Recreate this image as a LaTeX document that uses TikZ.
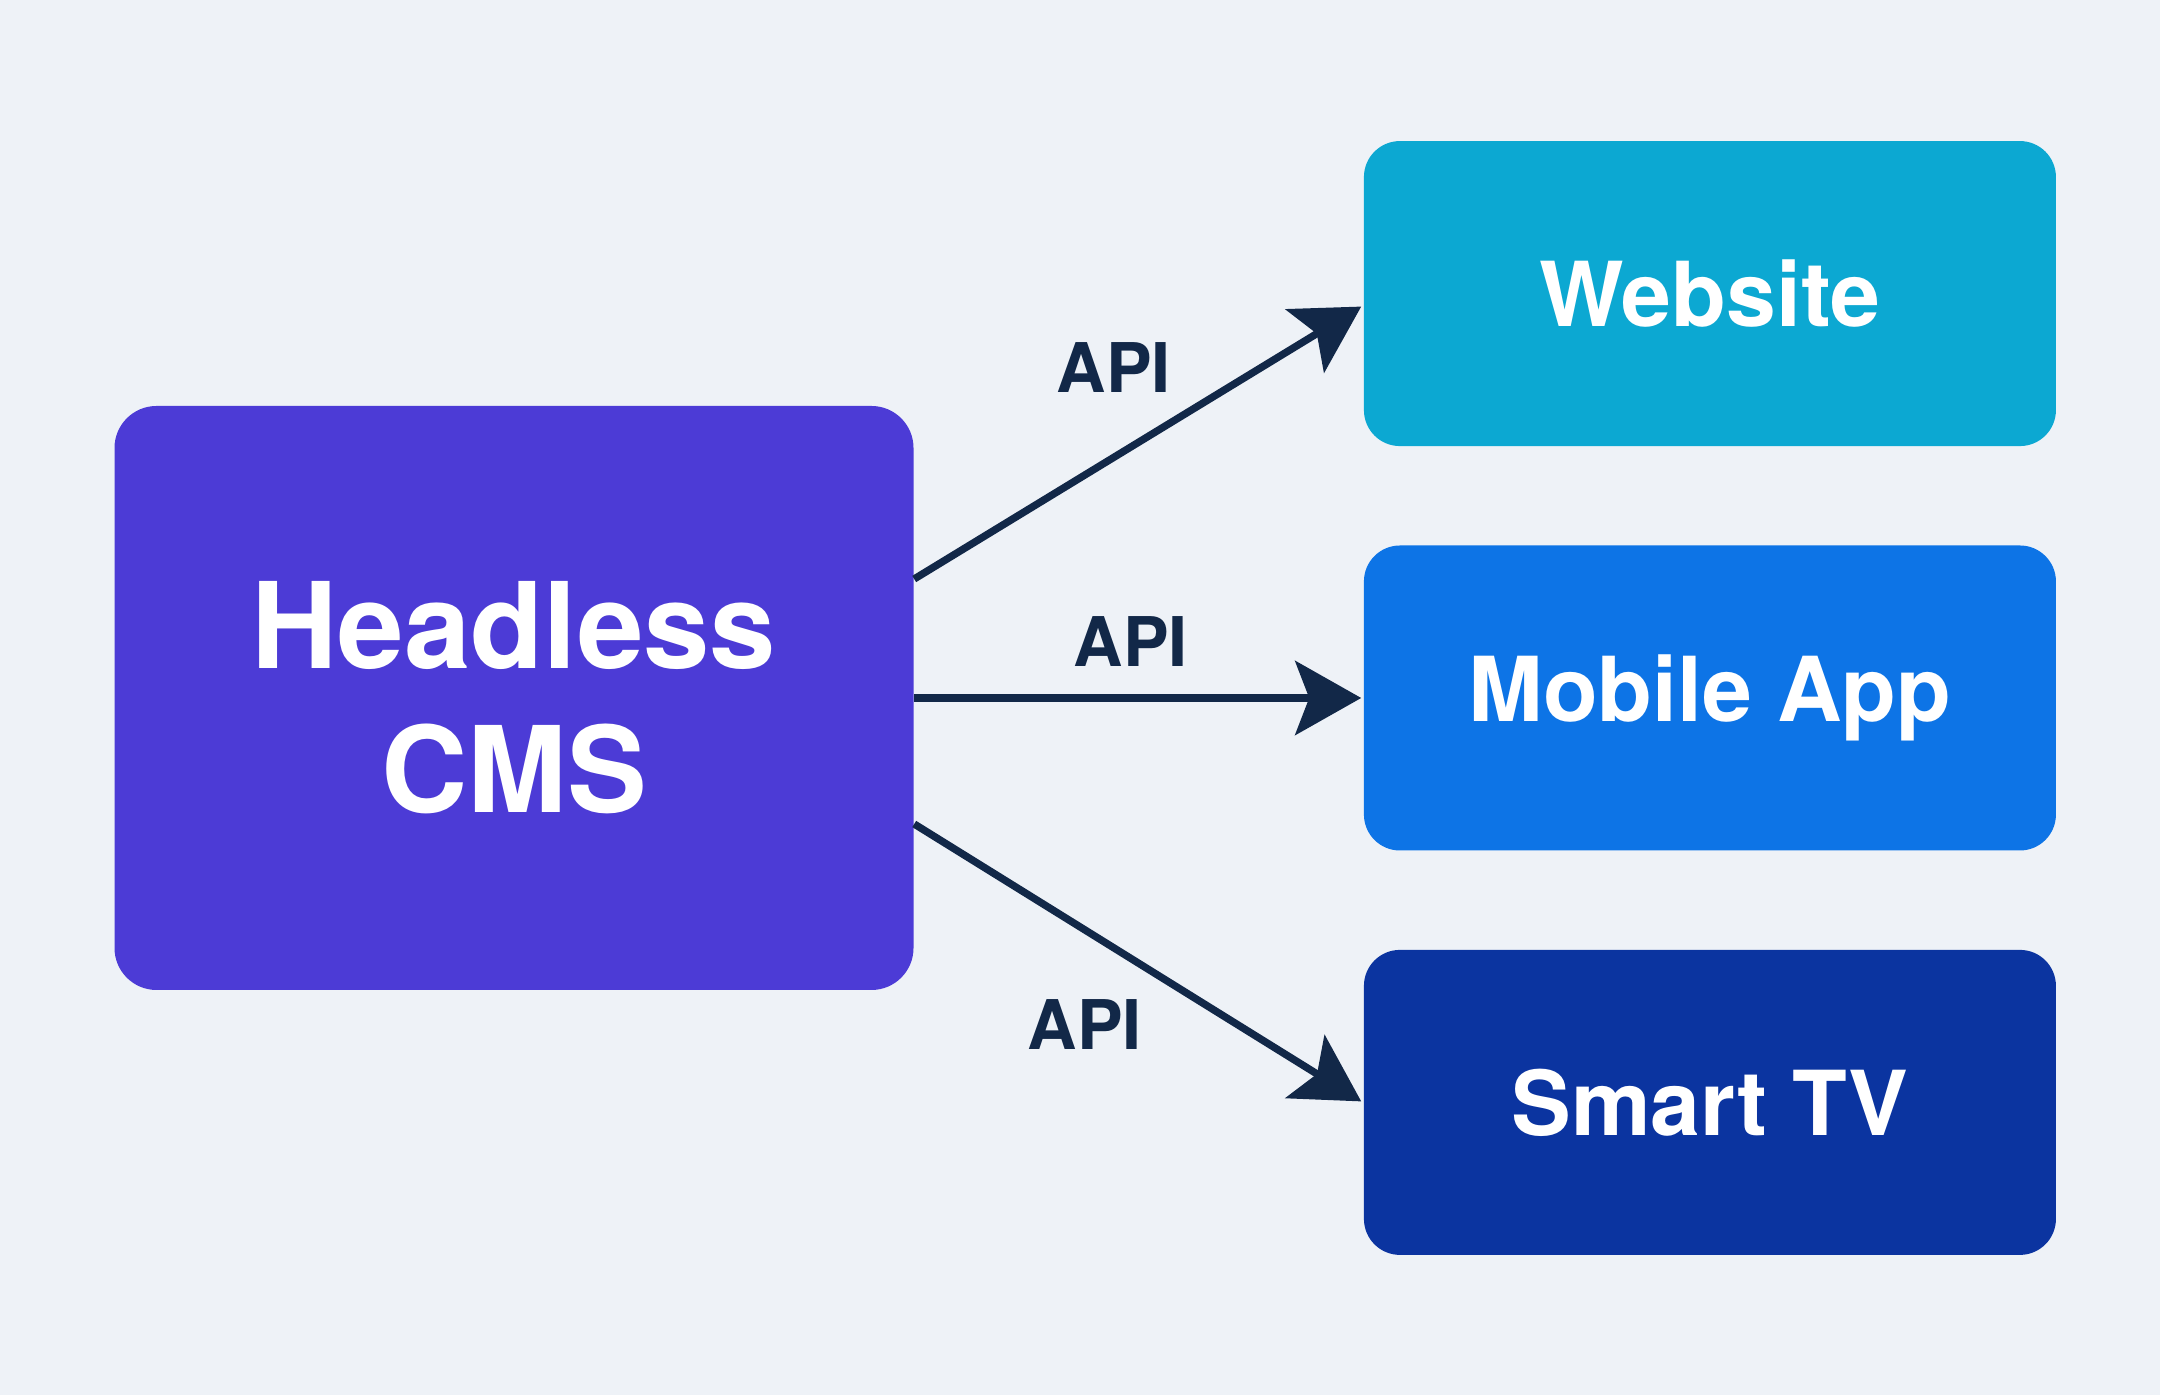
\documentclass[tikz,border=0pt]{standalone}
\usepackage{fontspec}
\setmainfont{TeX Gyre Heros}
\usepackage{xcolor}
\usetikzlibrary{arrows.meta, positioning, calc}

\definecolor{bgcol}{RGB}{238,242,247}
\definecolor{cmscol}{RGB}{76,59,214}
\definecolor{webcol}{RGB}{12,168,210}
\definecolor{appcol}{RGB}{13,116,230}
\definecolor{tvcol}{RGB}{11,52,160}
\definecolor{apicol}{RGB}{18,40,72}

\begin{document}
\begin{tikzpicture}[
    node distance=0.98cm and 4.49cm,
    cms/.style={fill=cmscol, rectangle, minimum height=5.84cm, minimum width=7.99cm, rounded corners=0.42cm, align=center, text=white, font=\fontsize{34}{41}\selectfont\bfseries},
    client/.style={rectangle, minimum height=3.05cm, minimum width=6.92cm, rounded corners=0.36cm, align=center, text=white, font=\fontsize{25.5}{30}\selectfont\bfseries},
    apiline/.style={draw=apicol, line width=2.1pt, -{Stealth[length=0.66cm, width=0.74cm, inset=0.14cm]}},
    apilabel/.style={text=apicol, font=\fontsize{19.5}{23}\selectfont\bfseries}
]
    \fill[bgcol] (0,0) rectangle (21.6,13.95);
    \useasboundingbox (0,0) rectangle (21.6,13.95);

    \node[cms] (cms) at (5.14,6.97) {Headless\\CMS};
    \node[client, fill=appcol, right=of cms] (app) {Mobile App};
    \node[client, fill=webcol, above=of app] (web) {Website};
    \node[client, fill=tvcol, below=of app] (tv) {Smart TV};

    % API calls
    \draw[apiline] ([yshift=1.19cm]cms.east) -- ([xshift=-0.02cm, yshift=-0.13cm]web.west)
        node[apilabel, midway, xshift=-0.24cm, yshift=0.75cm] (api1) {API};
    \draw[apiline] (cms.east) -- ([xshift=-0.02cm]app.west)
        node[apilabel, midway, xshift=-0.07cm, yshift=0.56cm] (api2) {API};
    \draw[apiline] ([yshift=-1.26cm]cms.east) -- ([xshift=-0.02cm, yshift=0.01cm]tv.west)
        node[apilabel, midway, xshift=-0.53cm, yshift=-0.62cm] (api3) {API};
\end{tikzpicture}
\end{document}
